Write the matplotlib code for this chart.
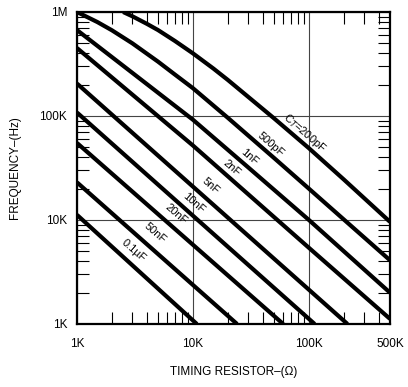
import matplotlib
matplotlib.use("Agg")
import matplotlib.pyplot as plt
from matplotlib.ticker import FixedLocator, NullFormatter

plt.rcParams['font.family'] = ['Liberation Sans', 'DejaVu Sans']

# Timing resistor (ohms) and frequency (Hz), per timing capacitor
r_200p = [2.5e3, 3e3, 4e3, 5e3, 7e3, 1e4, 1.5e4, 2e4, 5e4, 1e5, 2e5, 5e5]
f_200p = [1.0e6, 9.1e5, 7.7e5, 6.7e5, 5.26e5, 4.0e5, 2.86e5, 2.22e5, 9.5e4, 4.9e4, 2.45e4, 9.6e3]

r_500p = [1e3, 1.5e3, 2e3, 3e3, 5e3, 7e3, 1e4, 2e4, 5e4, 1e5, 5e5]
f_500p = [1.0e6, 8.0e5, 6.67e5, 5.0e5, 3.33e5, 2.5e5, 1.85e5, 9.6e4, 3.95e4, 2.0e4, 4.1e3]

r_1n = [1e3, 3e3, 1e4, 3e4, 1e5, 5e5]
f_1n = [6.7e5, 2.6e5, 9.2e4, 3.2e4, 1.0e4, 2.0e3]

r_2n = [1e3, 1e4, 1e5, 5e5]
f_2n = [4.5e5, 5.2e4, 5.4e3, 1.12e3]

r_5n = [1e3, 2.15e5]
f_5n = [2.05e5, 1e3]

r_10n = [1e3, 1.12e5]
f_10n = [1.08e5, 1e3]

r_20n = [1e3, 6.0e4]
f_20n = [5.5e4, 1e3]

r_50n = [1e3, 2.4e4]
f_50n = [2.3e4, 1e3]

r_100n = [1e3, 1.08e4]
f_100n = [1.12e4, 1e3]

curves = [(r_200p, f_200p), (r_500p, f_500p), (r_1n, f_1n), (r_2n, f_2n),
          (r_5n, f_5n), (r_10n, f_10n), (r_20n, f_20n), (r_50n, f_50n),
          (r_100n, f_100n)]

cap_labels = ["C$_T$=200pF", "500pF", "1nF", "2nF", "5nF", "10nF", "20nF", "50nF", "0.1\u00b5F"]
label_r = [9.24e4, 4.7e4, 3.04e4, 2.17e4, 1.43e4, 1.02e4, 7.13e3, 4.7e3, 3.1e3]
label_f = [6.87e4, 5.26e4, 4.04e4, 3.16e4, 2.12e4, 1.46e4, 1.14e4, 7.5e3, 5.03e3]

x_ticks = [1e3, 1e4, 1e5, 5e5]
x_ticklabels = ["1K", "10K", "100K", "500K"]
y_ticks = [1e3, 1e4, 1e5, 1e6]
y_ticklabels = ["1K", "10K", "100K", "1M"]

fig = plt.figure(figsize=(4.08, 3.87), dpi=100)
ax = fig.add_axes([77/408, 63/387, 313/408, 312/387])

for r, f in curves:
    ax.plot(r, f, color='black', lw=3.0, solid_capstyle='butt', solid_joinstyle='round')

for txt, lr, lf in zip(cap_labels, label_r, label_f):
    ax.text(lr, lf, txt, rotation=-41, rotation_mode='anchor', ha='center', va='center',
            fontsize=8, color='black')

ax.set_xscale('log')
ax.set_yscale('log')
ax.set_xlim(1e3, 5e5)
ax.set_ylim(1e3, 1e6)

ax.xaxis.set_major_locator(FixedLocator(x_ticks))
ax.set_xticklabels(x_ticklabels)
ax.yaxis.set_major_locator(FixedLocator(y_ticks))
ax.set_yticklabels(y_ticklabels)

x_minor = [m * d for d in (1e3, 1e4, 1e5) for m in range(2, 10) if m * d < 5e5]
y_minor = [m * d for d in (1e3, 1e4, 1e5) for m in range(2, 10)]
ax.xaxis.set_minor_locator(FixedLocator(x_minor))
ax.yaxis.set_minor_locator(FixedLocator(y_minor))
ax.xaxis.set_minor_formatter(NullFormatter())
ax.yaxis.set_minor_formatter(NullFormatter())

ax.tick_params(which='minor', direction='in', length=8.5, width=0.8,
               top=True, right=True, bottom=True, left=True)
ax.tick_params(which='major', direction='in', length=0, labelsize=8.5, colors='black')
ax.tick_params(axis='x', which='major', pad=10)
ax.tick_params(axis='y', which='major', pad=7)

ax.grid(True, which='major', color='#444444', lw=0.8)

for s in ax.spines.values():
    s.set_linewidth(1.6)
    s.set_color('black')

ax.set_xlabel("TIMING RESISTOR\u2013(\u03a9)", fontsize=8.5, va='center')
ax.xaxis.set_label_coords(0.5, (324 - 372) / 312)
ax.set_ylabel("FREQUENCY\u2013(Hz)", fontsize=8.5, va='center')
ax.yaxis.set_label_coords((15 - 77) / 313, 0.5)

fig.savefig("out.png", dpi=100)
